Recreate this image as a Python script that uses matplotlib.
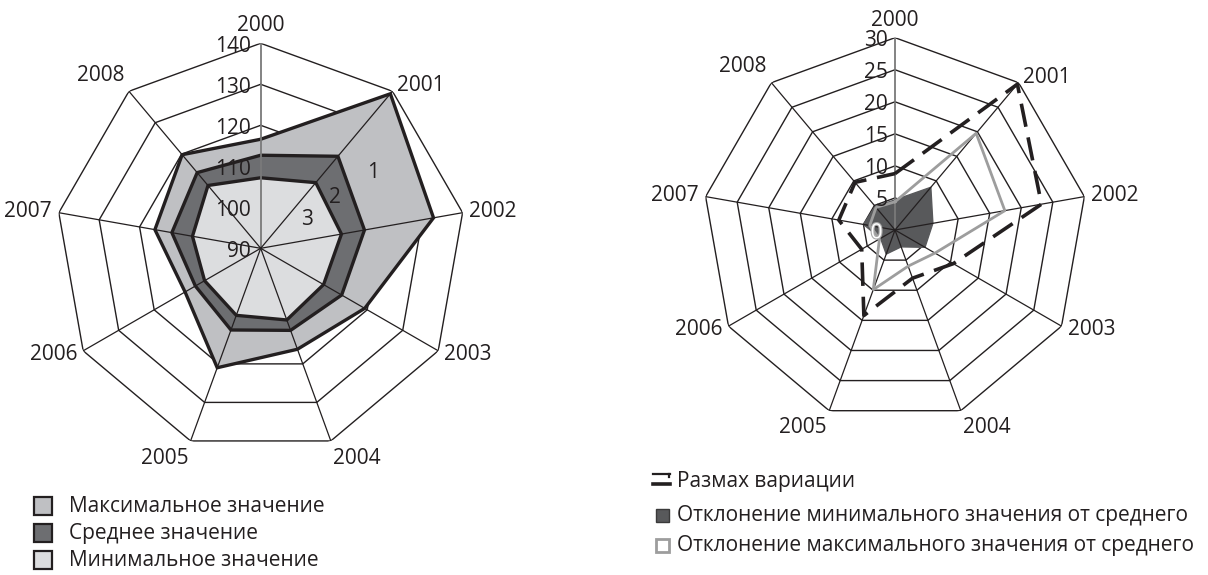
import numpy as np
import matplotlib
matplotlib.use('Agg')
import matplotlib.pyplot as plt
from matplotlib.lines import Line2D
from matplotlib.patches import Rectangle
import matplotlib.patheffects as pe

plt.rcParams['font.family'] = ['Open Sans', 'DejaVu Sans']

# ---------------- data ----------------
years = ['2000', '2001', '2002', '2003', '2004', '2005', '2006', '2007', '2008']

max_vals = [116.6, 139.2, 132.8, 119.3, 116.2, 121.0, 111.3, 116.2, 119.8]
mean_vals = [112.7, 119.3, 115.7, 112.8, 111.3, 111.2, 108.4, 112.0, 114.1]
min_vals = [107.2, 110.9, 110.0, 107.7, 108.6, 107.4, 105.8, 106.9, 110.0]

range_vals = [8.8, 29.7, 23.2, 10.5, 8.0, 14.2, 6.0, 8.9, 9.7]
min_dev = [4.7, 8.7, 6.0, 5.4, 2.8, 4.0, 2.6, 5.0, 4.8]
max_dev = [4.4, 19.7, 17.4, 7.2, 6.0, 9.9, 2.8, 4.0, 4.6]

left_ticks = [90, 100, 110, 120, 130, 140]
right_ticks = [0, 5, 10, 15, 20, 25, 30]

left_labels = ['Максимальное значение', 'Среднее значение', 'Минимальное значение']
right_labels = ['Размах вариации', 'Отклонение минимального значения от среднего',
                'Отклонение максимального значения от среднего']

# ---------------- style ----------------
INK = '#231f20'
C_MAX = '#bfc0c3'
C_MEAN = '#6d6e71'
C_MIN = '#dcdddf'
C_DEV_MIN = '#58595b'
C_DEV_MAX = '#9d9d9d'
FS = 15

W, H = 1208, 575
fig = plt.figure(figsize=(W / 100, H / 100), dpi=100)


def fx(x):
    return x / W


def fy(y):
    return 1 - y / H


def polar_axes(cx, cy, R):
    return fig.add_axes([(cx - R) / W, (H - cy - R) / H, 2 * R / W, 2 * R / H],
                        projection='polar')


theta = np.deg2rad(np.arange(len(years)) * 360.0 / len(years))
closed_t = np.append(theta, theta[0])


def close(v):
    return list(v) + [v[0]]


def setup(ax, ticks, R_px):
    rmin, rmax = ticks[0], ticks[-1]
    ax.set_theta_zero_location('N')
    ax.set_theta_direction(-1)
    ax.set_ylim(rmin, rmax)
    ax.grid(False)
    ax.spines['polar'].set_visible(False)
    ax.set_xticks([])
    ax.set_yticks([])
    ax.patch.set_alpha(0)
    for t in ticks[1:]:
        ax.plot(closed_t, [t] * len(closed_t), color=INK, lw=1.0, zorder=1)
    for i, th in enumerate(theta):
        ax.plot([th, th], [rmin, rmax], color=(INK if i else '#7a7a7a'),
                lw=(0.9 if i else 1.3), zorder=6)
    # category labels
    dr = (rmax - rmin) * 7.0 / R_px
    for i, (th, yr) in enumerate(zip(theta, years)):
        s, c = np.sin(th), np.cos(th)
        ha = 'center' if abs(s) < 0.1 else ('left' if s > 0 else 'right')
        if c > 0.9 or (s < 0 and c > 0.5):
            va = 'bottom'
        elif c < -0.9:
            va = 'top'
        else:
            va = 'center'
        ax.text(th, rmax + dr, yr, ha=ha, va=va, fontsize=FS, color=INK,
                clip_on=False)


# ---------------- left chart ----------------
axL = polar_axes(260.7, 248.3, 205)
setup(axL, left_ticks, 205)
axL.fill(closed_t, close(max_vals), facecolor=C_MAX, edgecolor=INK, lw=2.4, zorder=2)
axL.fill(closed_t, close(mean_vals), facecolor=C_MEAN, edgecolor=INK, lw=2.4, zorder=3)
axL.fill(closed_t, close(min_vals), facecolor=C_MIN, edgecolor=INK, lw=2.4, zorder=4)
for t in left_ticks:
    axL.annotate(str(t), xy=(0, t), xytext=(-7, -2), textcoords='offset points',
                 ha='right', va='center', fontsize=FS, color=INK, zorder=8)
for txt, ang, r in [('1', 55.8, 123.1), ('2', 55.4, 112.0), ('3', 58.4, 103.2)]:
    axL.text(np.deg2rad(ang), r, txt, ha='center', va='center', fontsize=FS,
             color=INK, zorder=8)

# ---------------- right chart ----------------
axR = polar_axes(895, 230, 192.3)
setup(axR, right_ticks, 192.3)
axR.fill(closed_t, close(min_dev), facecolor=C_DEV_MIN, edgecolor=C_DEV_MIN,
         lw=1.0, zorder=2)
axR.plot(closed_t, close(max_dev), color=C_DEV_MAX, lw=2.0, zorder=7)
axR.plot(closed_t, close(range_vals), color=INK, lw=2.6, ls=(0, (6.5, 3)), zorder=7)
for t in right_ticks:
    if t == 0:
        axR.annotate('0', xy=(0, t), xytext=(-9, -2), textcoords='offset points',
                     ha='right', va='center', fontsize=FS, color='white', zorder=9,
                     path_effects=[pe.withStroke(linewidth=1.6, foreground='#aaaaaa')])
    else:
        axR.annotate(str(t), xy=(0, t), xytext=(-5, -2), textcoords='offset points',
                     ha='right', va='center', fontsize=FS, color=INK, zorder=8)

# ---------------- legends (drawn in figure pixels) ----------------
left_faces = [C_MAX, C_MEAN, C_MIN]
for k, (lab, fc) in enumerate(zip(left_labels, left_faces)):
    yc = 506 + 27 * k
    fig.add_artist(Rectangle((fx(34), fy(yc + 9)), 18 / W, 18 / H, facecolor=fc,
                             edgecolor=INK, lw=1.6, transform=fig.transFigure))
    fig.text(fx(69), fy(yc), lab, ha='left', va='center', fontsize=FS, color=INK)

# right legend
fig.add_artist(Line2D([fx(653), fx(670)], [fy(474), fy(474)], color=INK, lw=1.6,
                      transform=fig.transFigure))
fig.add_artist(Line2D([fx(668.5), fx(668.5)], [fy(474), fy(477)], color=INK, lw=1.6,
                      transform=fig.transFigure))
fig.add_artist(Line2D([fx(653), fx(670)], [fy(484), fy(484)], color=INK, lw=2.6,
                      transform=fig.transFigure))
fig.text(fx(676.7), fy(481), right_labels[0], ha='left', va='center', fontsize=FS,
         color=INK)

fig.add_artist(Rectangle((fx(655.5), fy(522)), 13.5 / W, 13.5 / H, facecolor=C_DEV_MIN,
                         edgecolor='#3a3a3a', lw=1.0, transform=fig.transFigure))
fig.text(fx(676.7), fy(515.5), right_labels[1], ha='left', va='center', fontsize=FS,
         color=INK)

fig.add_artist(Rectangle((fx(656), fy(551.5)), 13 / W, 13 / H, facecolor='white',
                         edgecolor=C_DEV_MAX, lw=2.0, transform=fig.transFigure))
fig.text(fx(676.7), fy(545.5), right_labels[2], ha='left', va='center', fontsize=FS,
         color=INK)

fig.savefig('out.png', dpi=100)
